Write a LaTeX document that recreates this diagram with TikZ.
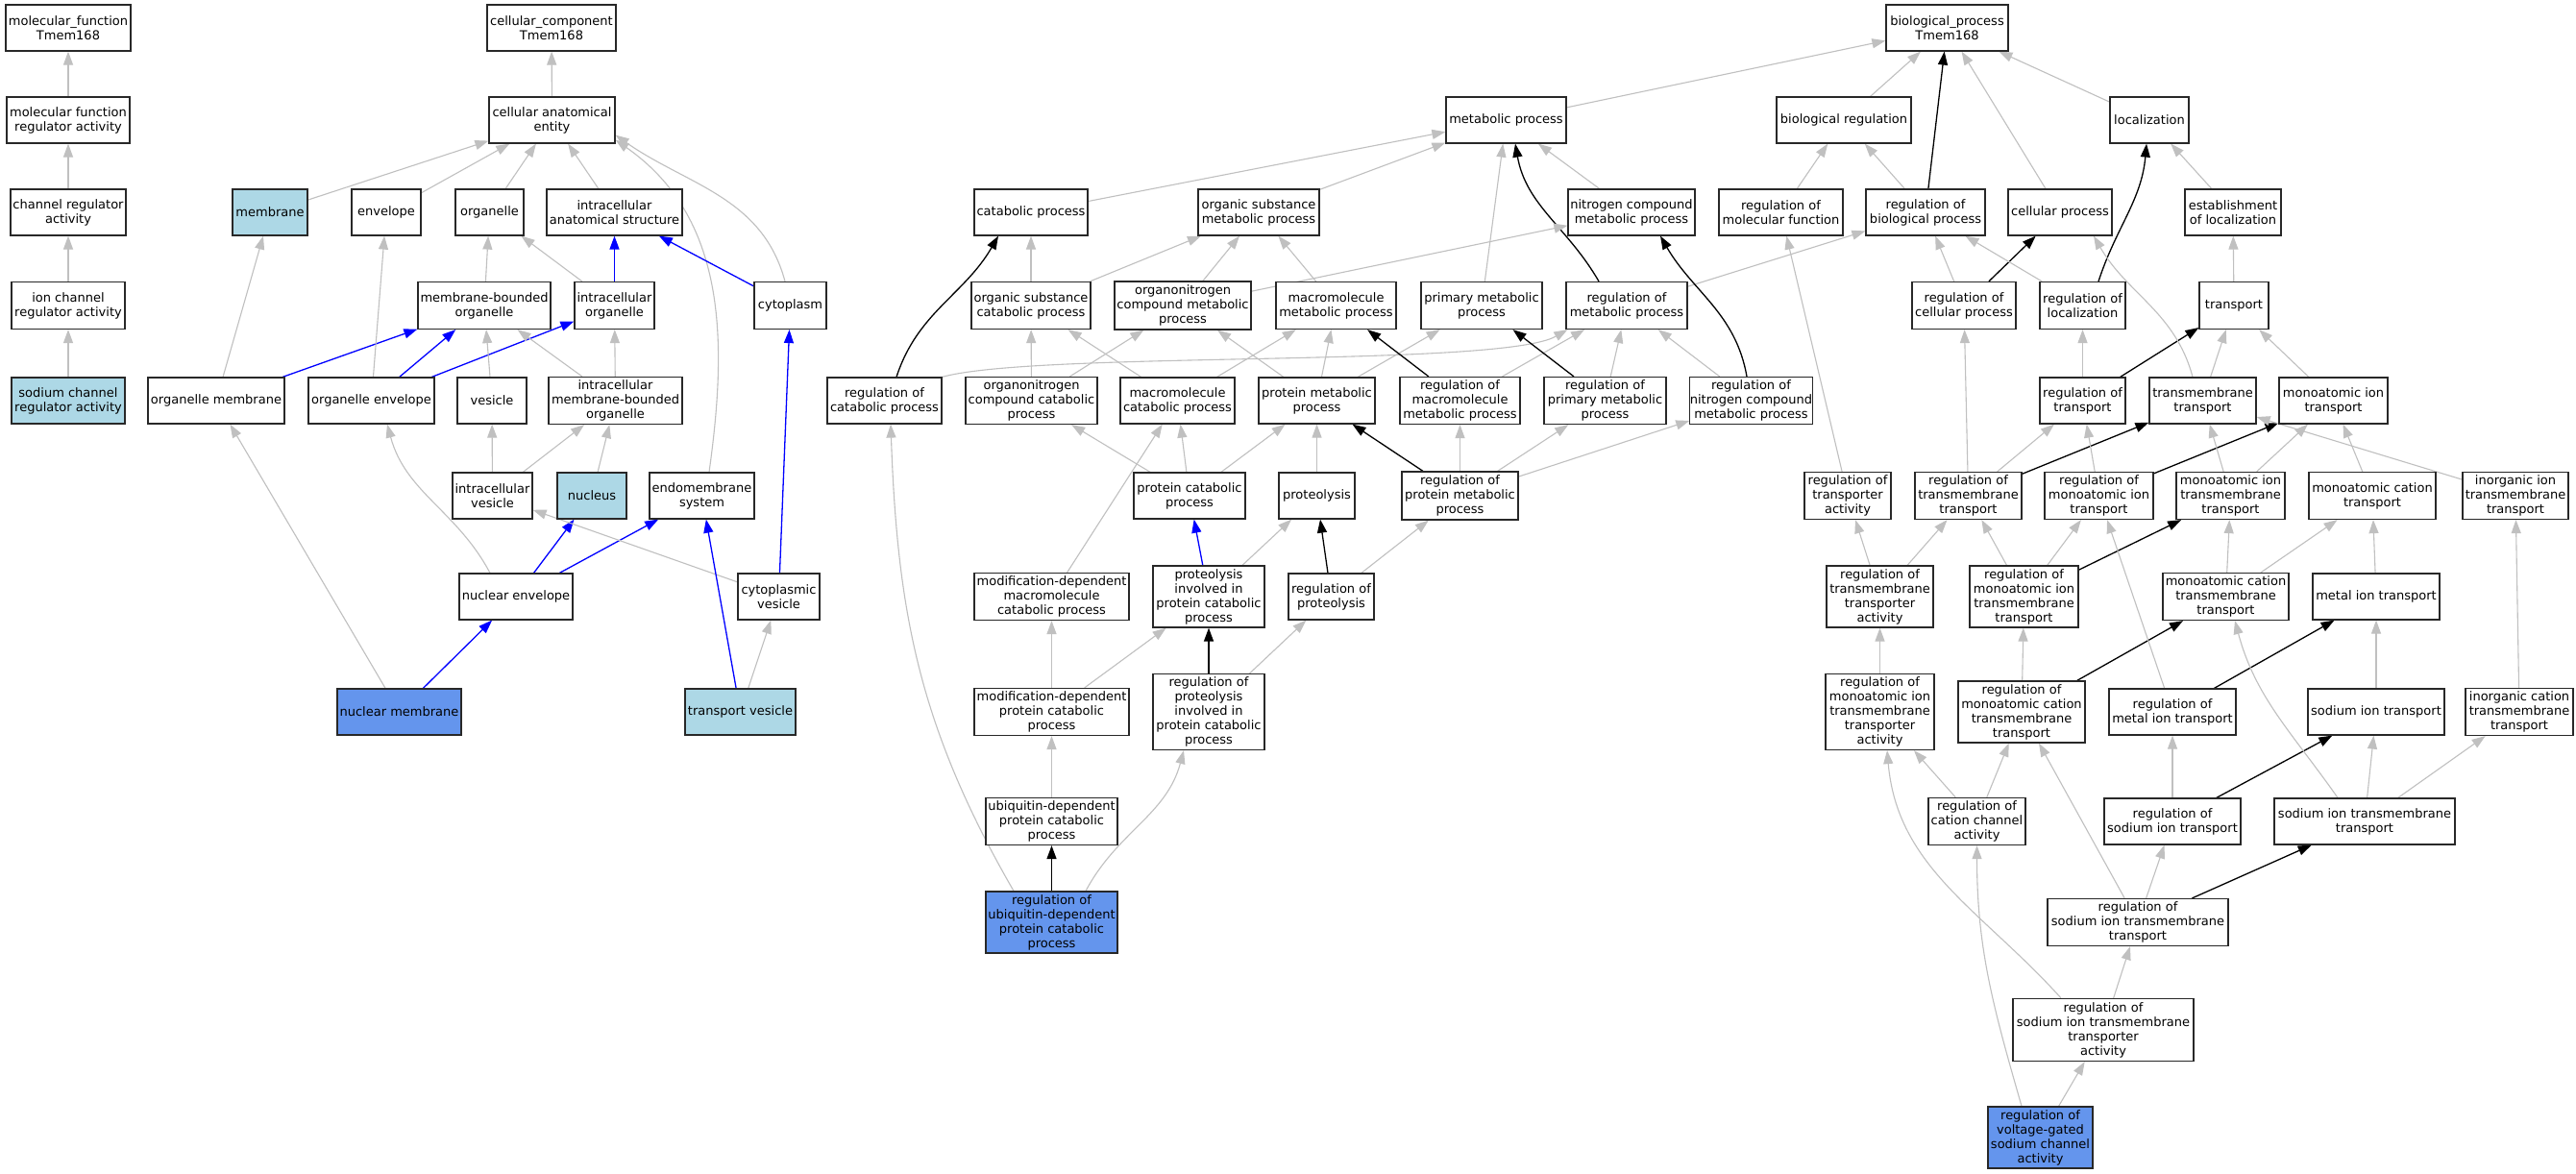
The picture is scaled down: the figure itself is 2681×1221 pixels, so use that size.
\documentclass[tikz,border=0pt]{standalone}
\usepackage{fontspec}
\setmainfont{DejaVu Sans}
\usetikzlibrary{arrows.meta,backgrounds}
\definecolor{eg}{RGB}{192,192,192}
\definecolor{lb}{RGB}{173,216,230}
\definecolor{cb}{RGB}{100,149,237}
\definecolor{bd}{RGB}{40,40,40}
\pgfdeclarelayer{bottom}
\pgfsetlayers{bottom,background,main}
\begin{document}
\begin{tikzpicture}[x=1pt,y=1pt,
 box/.style={draw=bd,line width=1.2pt,fill=white,align=center,inner sep=0pt,font=\fontsize{13}{15}\selectfont},
 ge/.style={draw=eg,line width=1.1pt,-{Triangle[length=14pt,width=10pt]}},
 ke/.style={draw=black,line width=1.3pt,-{Triangle[length=14pt,width=10pt]}},
 ue/.style={draw=blue,line width=1.3pt,-{Triangle[length=14pt,width=10pt]}}]
\begin{pgfonlayer}{bottom}
\fill[white] (0,0) rectangle (2681,-1221);
\end{pgfonlayer}
\useasboundingbox (0,0) rectangle (2681,-1221);
% ---------- left ----------
\node[box,minimum width=130,minimum height=48] (mf) at (71,-29) {molecular\_function\\Tmem168};
\node[box,minimum width=134,minimum height=48] (cc) at (574,-29) {cellular\_component\\Tmem168};
\node[box,minimum width=128,minimum height=48] (mfreg) at (71,-125) {molecular function\\regulator activity};
\node[box,minimum width=131,minimum height=48] (cae) at (574.5,-125) {cellular anatomical\\entity};
\node[box,minimum width=120,minimum height=48] (chreg) at (71,-221) {channel regulator\\activity};
\node[box,fill=lb,minimum width=78,minimum height=48] (membrane) at (281,-221) {membrane};
\node[box,minimum width=72,minimum height=48] (envelope) at (402,-221) {envelope};
\node[box,minimum width=71,minimum height=48] (organelle) at (509.5,-221) {organelle};
\node[box,minimum width=141,minimum height=48] (ias) at (639.5,-221) {intracellular\\anatomical structure};
\node[box,minimum width=118,minimum height=49] (ionchreg) at (71,-318) {ion channel\\regulator activity};
\node[box,minimum width=138,minimum height=49] (mbo) at (504,-318) {membrane-bounded\\organelle};
\node[box,minimum width=83,minimum height=49] (io) at (639.5,-318) {intracellular\\organelle};
\node[box,minimum width=75,minimum height=49] (cytoplasm) at (822.5,-318) {cytoplasm};
\node[box,fill=lb,minimum width=118,minimum height=48] (nachreg) at (71,-417) {sodium channel\\regulator activity};
\node[box,minimum width=142,minimum height=48] (orgmem) at (225,-417) {organelle membrane};
\node[box,minimum width=131,minimum height=48] (orgenv) at (386.5,-417) {organelle envelope};
\node[box,minimum width=72,minimum height=48] (vesicle) at (512,-417) {vesicle};
\node[box,minimum width=139,minimum height=49] (imbo) at (640.5,-417) {intracellular\\membrane-bounded\\organelle};
\node[box,minimum width=83,minimum height=48] (ivesicle) at (512.5,-516) {intracellular\\vesicle};
\node[box,fill=lb,minimum width=72,minimum height=48] (nucleus) at (616,-516) {nucleus};
\node[box,minimum width=109,minimum height=48] (endo) at (730.5,-516) {endomembrane\\system};
\node[box,minimum width=118,minimum height=48] (nenv) at (537,-621) {nuclear envelope};
\node[box,minimum width=85,minimum height=48] (cytves) at (810.5,-621) {cytoplasmic\\vesicle};
\node[box,fill=cb,minimum width=129,minimum height=48] (nmem) at (415.5,-741) {nuclear membrane};
\node[box,fill=lb,minimum width=115,minimum height=48] (tves) at (770.5,-741) {transport vesicle};
% ---------- middle ----------
\node[box,minimum width=125,minimum height=48] (metab) at (1567.5,-125) {metabolic process};
\node[box,minimum width=118,minimum height=48] (catab) at (1073,-221) {catabolic process};
\node[box,minimum width=126,minimum height=48] (osmeta) at (1310,-221) {organic substance\\metabolic process};
\node[box,minimum width=132,minimum height=48] (ncmeta) at (1698,-221) {nitrogen compound\\metabolic process};
\node[box,minimum width=124,minimum height=49] (oscat) at (1073,-318) {organic substance\\catabolic process};
\node[box,minimum width=142,minimum height=50] (oncmeta) at (1231,-318) {organonitrogen\\compound metabolic\\process};
\node[box,minimum width=125,minimum height=49] (mmeta) at (1390.5,-318) {macromolecule\\metabolic process};
\node[box,minimum width=126,minimum height=49] (pmeta) at (1542,-318) {primary metabolic\\process};
\node[box,minimum width=126,minimum height=49] (regmeta) at (1693,-318) {regulation of\\metabolic process};
\node[box,minimum width=119,minimum height=48] (regcat) at (920.5,-417) {regulation of\\catabolic process};
\node[box,minimum width=137,minimum height=49] (onccat) at (1073.5,-417) {organonitrogen\\compound catabolic\\process};
\node[box,minimum width=119,minimum height=48] (mcat) at (1225.5,-417) {macromolecule\\catabolic process};
\node[box,minimum width=121,minimum height=48] (protmeta) at (1370.5,-417) {protein metabolic\\process};
\node[box,minimum width=125,minimum height=49] (regmmeta) at (1519.5,-417) {regulation of\\macromolecule\\metabolic process};
\node[box,minimum width=127,minimum height=49] (regpmeta) at (1670.5,-417) {regulation of\\primary metabolic\\process};
\node[box,minimum width=127,minimum height=49] (regncmeta) at (1822.5,-417) {regulation of\\nitrogen compound\\metabolic process};
\node[box,minimum width=116,minimum height=48] (protcat) at (1238,-516) {protein catabolic\\process};
\node[box,minimum width=79,minimum height=48] (proteolysis) at (1370.5,-516) {proteolysis};
\node[box,minimum width=121,minimum height=50] (regprotmeta) at (1519.5,-516) {regulation of\\protein metabolic\\process};
\node[box,minimum width=161,minimum height=49] (mdmcat) at (1094.5,-621) {modification-dependent\\macromolecule\\catabolic process};
\node[box,minimum width=116,minimum height=64] (pinvolved) at (1258,-621) {proteolysis\\involved in\\protein catabolic\\process};
\node[box,minimum width=89,minimum height=48] (regproteolysis) at (1385.5,-621) {regulation of\\proteolysis};
\node[box,minimum width=161,minimum height=49] (mdpcat) at (1094.5,-741) {modification-dependent\\protein catabolic\\process};
\node[box,minimum width=116,minimum height=79] (regpinv) at (1258,-741) {regulation of\\proteolysis\\involved in\\protein catabolic\\process};
\node[box,minimum width=137,minimum height=49] (ubqcat) at (1094.5,-855) {ubiquitin-dependent\\protein catabolic\\process};
\node[box,fill=cb,minimum width=137,minimum height=64] (regubq) at (1094.5,-960) {regulation of\\ubiquitin-dependent\\protein catabolic\\process};
% ---------- right ----------
\node[box,minimum width=127,minimum height=48] (bp) at (2026.5,-29) {biological\_process\\Tmem168};
\node[box,minimum width=140,minimum height=48] (bioreg) at (1919,-125) {biological regulation};
\node[box,minimum width=82,minimum height=48] (loc) at (2237,-125) {localization};
\node[box,minimum width=129,minimum height=48] (regmf) at (1853.5,-221) {regulation of\\molecular function};
\node[box,minimum width=124,minimum height=48] (regbp) at (2004,-221) {regulation of\\biological process};
\node[box,minimum width=108,minimum height=48] (cellp) at (2144,-221) {cellular process};
\node[box,minimum width=100,minimum height=48] (estloc) at (2324,-221) {establishment\\of localization};
\node[box,minimum width=108,minimum height=49] (regcellp) at (2044,-318) {regulation of\\cellular process};
\node[box,minimum width=89,minimum height=49] (regloc) at (2167.5,-318) {regulation of\\localization};
\node[box,minimum width=72,minimum height=49] (transport) at (2325,-318) {transport};
\node[box,minimum width=89,minimum height=48] (regtransport) at (2167.5,-417) {regulation of\\transport};
\node[box,minimum width=111,minimum height=48] (tmt) at (2292.5,-417) {transmembrane\\transport};
\node[box,minimum width=113,minimum height=48] (mit) at (2428.5,-417) {monoatomic ion\\transport};
\node[box,minimum width=90,minimum height=49] (regta) at (1923,-516) {regulation of\\transporter\\activity};
\node[box,minimum width=111,minimum height=49] (regtmt) at (2048.5,-516) {regulation of\\transmembrane\\transport};
\node[box,minimum width=113,minimum height=49] (regmit) at (2184.5,-516) {regulation of\\monoatomic ion\\transport};
\node[box,minimum width=113,minimum height=49] (mitmt) at (2321.5,-516) {monoatomic ion\\transmembrane\\transport};
\node[box,minimum width=132,minimum height=49] (mct) at (2469,-516) {monoatomic cation\\transport};
\node[box,minimum width=110,minimum height=49] (iitmt) at (2618,-516) {inorganic ion\\transmembrane\\transport};
\node[box,minimum width=111,minimum height=64] (regtmta) at (1956.5,-621) {regulation of\\transmembrane\\transporter\\activity};
\node[box,minimum width=113,minimum height=64] (regmitmt) at (2106.5,-621) {regulation of\\monoatomic ion\\transmembrane\\transport};
\node[box,minimum width=131,minimum height=49] (mctmt) at (2316.5,-621) {monoatomic cation\\transmembrane\\transport};
\node[box,minimum width=132,minimum height=48] (metalit) at (2473,-621) {metal ion transport};
\node[box,minimum width=113,minimum height=79] (regmitmta) at (1956.5,-741) {regulation of\\monoatomic ion\\transmembrane\\transporter\\activity};
\node[box,minimum width=132,minimum height=64] (regmctmt) at (2104,-741) {regulation of\\monoatomic cation\\transmembrane\\transport};
\node[box,minimum width=132,minimum height=48] (regmetalit) at (2261,-741) {regulation of\\metal ion transport};
\node[box,minimum width=142,minimum height=48] (sodit) at (2473,-741) {sodium ion transport};
\node[box,minimum width=112,minimum height=49] (ictmt) at (2622,-741) {inorganic cation\\transmembrane\\transport};
\node[box,minimum width=101,minimum height=49] (regcca) at (2057.5,-855) {regulation of\\cation channel\\activity};
\node[box,minimum width=142,minimum height=48] (regsodit) at (2261,-855) {regulation of\\sodium ion transport};
\node[box,minimum width=188,minimum height=48] (sodtmt) at (2461,-855) {sodium ion transmembrane\\transport};
\node[box,minimum width=188,minimum height=49] (regsodtmt) at (2225,-960) {regulation of\\sodium ion transmembrane\\transport};
\node[box,minimum width=188,minimum height=65] (regsodtmta) at (2189,-1072) {regulation of\\sodium ion transmembrane\\transporter\\activity};
\node[box,fill=cb,minimum width=109,minimum height=64] (regvgsca) at (2123.5,-1184) {regulation of\\voltage-gated\\sodium channel\\activity};
% ---------- edges ----------
\begin{pgfonlayer}{background}
% left
\draw[ge] (mfreg) -- (mf);
\draw[ge] (chreg) -- (mfreg);
\draw[ge] (ionchreg) -- (chreg);
\draw[ge] (nachreg) -- (ionchreg);
\draw[ge] (cae) -- (cc);
\draw[ge] (membrane) -- (cae);
\draw[ge] (envelope) -- (cae);
\draw[ge] (organelle) -- (cae);
\draw[ge] (ias) -- (cae);
\draw[ge] ([xshift=-5.5]cytoplasm.north) to[out=105,in=-35] ([yshift=9]cae.south east);
\draw[ge] ([xshift=7.5]endo.north) to[out=82,in=-35] ([yshift=4]cae.south east);
\draw[ge] (orgmem) -- (membrane);
\draw[ue] (orgmem) -- (mbo);
\draw[ge] (orgenv) -- (envelope);
\draw[ue] (orgenv) -- (mbo);
\draw[ue] (orgenv) -- (io);
\draw[ge] (mbo) -- (organelle);
\draw[ge] (io) -- (organelle);
\draw[ue] (io) -- (ias);
\draw[ue] (cytoplasm) -- (ias);
\draw[ge] (vesicle) -- (mbo);
\draw[ge] (imbo) -- (mbo);
\draw[ge] (imbo) -- (io);
\draw[ge] (ivesicle) -- (vesicle);
\draw[ge] (ivesicle) -- (imbo);
\draw[ge] (nucleus) -- (imbo);
\draw[ge] ([xshift=-27]nenv.north) to[out=118,in=-75] ([xshift=16.5]orgenv.south);
\draw[ue] (nenv) -- (nucleus);
\draw[ue] (nenv) -- (endo);
\draw[ge] (cytves) -- (ivesicle);
\draw[ue] (cytves) -- (cytoplasm);
\draw[ge] (nmem) -- (orgmem);
\draw[ue] (nmem) -- (nenv);
\draw[ue] (tves) -- (endo);
\draw[ge] (tves) -- (cytves);
% middle
\draw[ge] (metab) -- (bp);
\draw[ge] (catab) -- (metab);
\draw[ge] (osmeta) -- (metab);
\draw[ge] (pmeta) -- (metab);
\draw[ge] (ncmeta) -- (metab);
\draw[ke] ([xshift=-29]regmeta.north) to[out=120,in=-80] ([xshift=9.5]metab.south);
\draw[ge] (oscat) -- (catab);
\draw[ge] (oscat) -- (osmeta);
\draw[ge] (oncmeta) -- (osmeta);
\draw[ge] (oncmeta) -- (ncmeta);
\draw[ge] (mmeta) -- (osmeta);
\draw[ge] (regmeta) -- (regbp);
\draw[ke] ([xshift=12.5]regcat.north) to[out=72,in=-120] ([xshift=-34]catab.south);
\draw[ge] (regcat.north east) .. controls (1080,-365) and (1562,-383) .. ([xshift=2]regmeta.south west);
\draw[ge] (onccat) -- (oscat);
\draw[ge] (onccat) -- (oncmeta);
\draw[ge] (mcat) -- (oscat);
\draw[ge] (mcat) -- (mmeta);
\draw[ge] (protmeta) -- (oncmeta);
\draw[ge] (protmeta) -- (mmeta);
\draw[ge] (protmeta) -- (pmeta);
\draw[ke] (regmmeta) -- (mmeta);
\draw[ge] (regmmeta) -- (regmeta);
\draw[ke] (regpmeta) -- (pmeta);
\draw[ge] (regpmeta) -- (regmeta);
\draw[ge] (regncmeta) -- (regmeta);
\draw[ke] ([xshift=-4.5]regncmeta.north) to[out=100,in=-60] ([xshift=30]ncmeta.south);
\draw[ge] (protcat) -- (onccat);
\draw[ge] (protcat) -- (mcat);
\draw[ge] (protcat) -- (protmeta);
\draw[ge] (proteolysis) -- (protmeta);
\draw[ke] (regprotmeta) -- (protmeta);
\draw[ge] (regprotmeta) -- (regmmeta);
\draw[ge] (regprotmeta) -- (regpmeta);
\draw[ge] (regprotmeta) -- (regncmeta);
\draw[ge] (mdmcat) -- (mcat);
\draw[ue] (pinvolved) -- (protcat);
\draw[ge] (pinvolved) -- (proteolysis);
\draw[ke] (regproteolysis) -- (proteolysis);
\draw[ge] (regproteolysis) -- (regprotmeta);
\draw[ge] (mdpcat) -- (mdmcat);
\draw[ge] (mdpcat) -- (pinvolved);
\draw[ke] (regpinv) -- (pinvolved);
\draw[ge] (regpinv) -- (regproteolysis);
\draw[ge] (ubqcat) -- (mdpcat);
\draw[ke] (regubq) -- (ubqcat);
\draw[ge] ([xshift=-39.5]regubq.north) to[out=120,in=-88] ([xshift=6.5]regcat.south);
\draw[ge] ([xshift=35.5]regubq.north) to[out=62,in=-105] ([xshift=-26]regpinv.south);
% right
\draw[ge] (bioreg) -- (bp);
\draw[ke] (regbp) -- (bp);
\draw[ge] (cellp) -- (bp);
\draw[ge] (loc) -- (bp);
\draw[ge] (regmf) -- (bioreg);
\draw[ge] (regbp) -- (bioreg);
\draw[ge] (estloc) -- (loc);
\draw[ge] (regcellp) -- (regbp);
\draw[ke] (regcellp) -- (cellp);
\draw[ge] (regloc) -- (regbp);
\draw[ke] ([xshift=16.5]regloc.north) to[out=72,in=-95] ([xshift=-3]loc.south);
\draw[ge] (transport) -- (estloc);
\draw[ge] (regtransport) -- (regloc);
\draw[ke] (regtransport) -- (transport);
\draw[ge] (tmt) -- (transport);
\draw[ge] ([xshift=-10.5]tmt.north) to[out=105,in=-60] ([xshift=35]cellp.south);
\draw[ge] (mit) -- (transport);
\draw[ge] (regta) -- (regmf);
\draw[ge] (regtmt) -- (regcellp);
\draw[ge] (regtmt) -- (regtransport);
\draw[ke] (regtmt) -- (tmt);
\draw[ge] (regmit) -- (regtransport);
\draw[ke] (regmit) -- (mit);
\draw[ge] (mitmt) -- (tmt);
\draw[ge] (mitmt) -- (mit);
\draw[ge] (mct) -- (mit);
\draw[ge] (iitmt) -- (tmt);
\draw[ge] (regtmta) -- (regta);
\draw[ge] (regtmta) -- (regtmt);
\draw[ge] (regmitmt) -- (regtmt);
\draw[ge] (regmitmt) -- (regmit);
\draw[ke] (regmitmt) -- (mitmt);
\draw[ge] (mctmt) -- (mitmt);
\draw[ge] (mctmt) -- (mct);
\draw[ge] (metalit) -- (mct);
\draw[ge] (regmitmta) -- (regtmta);
\draw[ge] (regmctmt) -- (regmitmt);
\draw[ke] (regmctmt) -- (mctmt);
\draw[ge] (regmetalit) -- (regmit);
\draw[ke] (regmetalit) -- (metalit);
\draw[ge] (sodit) -- (metalit);
\draw[ge] (ictmt) -- (iitmt);
\draw[ge] (regcca) -- (regmitmta);
\draw[ge] (regcca) -- (regmctmt);
\draw[ge] (regsodit) -- (regmetalit);
\draw[ke] (regsodit) -- (sodit);
\draw[ge] ([xshift=-28]sodtmt.north) to[out=125,in=-75] ([xshift=9.5]mctmt.south);
\draw[ge] (sodtmt) -- (sodit);
\draw[ge] (sodtmt) -- (ictmt);
\draw[ge] (regsodtmt) -- (regmctmt);
\draw[ge] (regsodtmt) -- (regsodit);
\draw[ke] (regsodtmt) -- (sodtmt);
\draw[ge] (regsodtmta) -- (regsodtmt);
\draw[ge] ([xshift=-44]regsodtmta.north) to[out=132,in=-85] ([xshift=7.5]regmitmta.south);
\draw[ge] (regvgsca) -- (regsodtmta);
\draw[ge] ([xshift=-19.5]regvgsca.north) to[out=106,in=-90] (regcca.south);
\end{pgfonlayer}
\end{tikzpicture}
\end{document}
